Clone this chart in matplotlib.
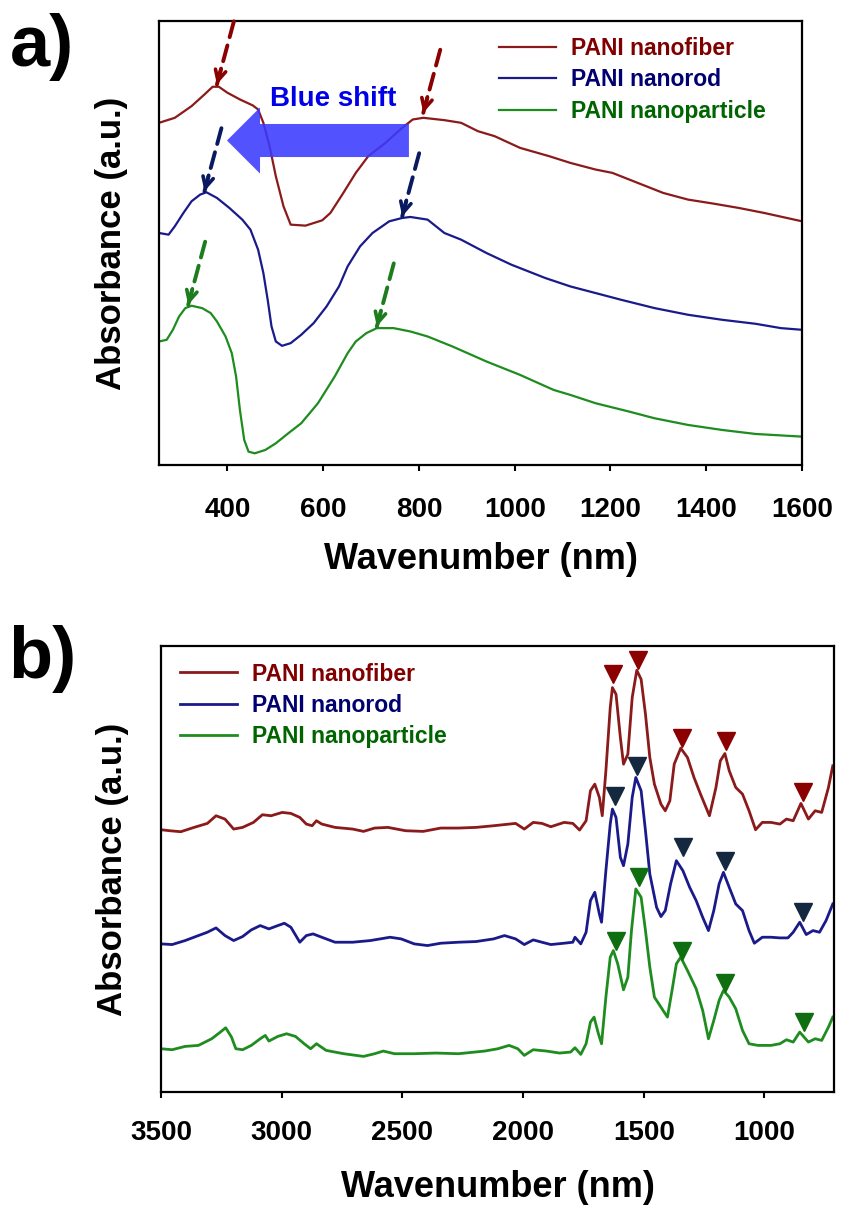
import matplotlib
matplotlib.use("Agg")
import matplotlib.pyplot as plt
from matplotlib.patches import FancyArrow

plt.rcParams['font.family'] = ['Liberation Sans', 'DejaVu Sans']
plt.rcParams['font.weight'] = 'bold'

# ---------------- Panel a : UV-vis spectra (stacked, a.u.) ----------------
uv_fiber_nm = [257, 290, 325, 352, 369, 382, 400, 426, 453, 464, 475, 488, 501, 517, 532, 563,
               598, 615, 642, 668, 694, 730, 765, 787, 809, 853, 888, 923, 958, 1011, 1072, 1116,
               1169, 1204, 1257, 1310, 1362, 1415, 1468, 1521, 1600]
uv_fiber_abs = [1025, 1040, 1075, 1110, 1133, 1133, 1115, 1095, 1077, 1065, 1025, 955, 865, 775, 720, 717,
                733, 755, 815, 875, 925, 965, 1010, 1035, 1040, 1033, 1025, 1000, 985, 950, 925, 905,
                885, 875, 845, 815, 795, 783, 770, 755, 730]

uv_rod_nm = [257, 277, 290, 308, 325, 343, 356, 378, 404, 431, 448, 464, 475, 484, 492, 501, 514,
             532, 554, 580, 607, 633, 651, 677, 703, 738, 765, 782, 818, 853, 888, 941, 993, 1064,
             1116, 1169, 1222, 1292, 1362, 1433, 1503, 1556, 1600]
uv_rod_abs = [695, 690, 715, 755, 790, 810, 817, 800, 770, 735, 705, 645, 575, 495, 415, 370, 357,
              365, 390, 425, 475, 535, 595, 655, 695, 730, 740, 743, 735, 695, 675, 635, 600, 560,
              535, 515, 495, 470, 450, 435, 423, 410, 405]

uv_particle_nm = [257, 273, 286, 299, 312, 325, 347, 365, 378, 396, 409, 418, 426, 435, 444, 457,
                  479, 501, 527, 554, 589, 624, 651, 668, 690, 712, 747, 782, 818, 870, 941, 1011,
                  1081, 1116, 1169, 1239, 1292, 1362, 1433, 1503, 1600]
uv_particle_abs = [370, 375, 405, 445, 470, 477, 470, 455, 430, 385, 335, 265, 165, 75, 40, 35,
                   45, 65, 95, 125, 185, 265, 335, 370, 395, 410, 410, 400, 385, 355, 310, 270,
                   225, 210, 185, 160, 140, 120, 105, 93, 85]

# absorption maxima marked by dashed arrows (nm, a.u.)
uv_fiber_peaks = [(378, 1140), (809, 1055)]
uv_rod_peaks = [(352, 820), (765, 745)]
uv_particle_peaks = [(318, 480), (712, 415)]

uv_ticks = [400, 600, 800, 1000, 1200, 1400, 1600]

# ---------------- Panel b : FTIR spectra (stacked, a.u.) ----------------
ir_fiber_wn = [3500, 3464, 3418, 3363, 3308, 3272, 3235, 3199, 3162, 3117, 3080, 3044, 2998, 2962, 2925,
               2898, 2874, 2856, 2834, 2779, 2706, 2661, 2615, 2560, 2487, 2414, 2341, 2268, 2195, 2122,
               2031, 1995, 1958, 1922, 1885, 1830, 1794, 1766, 1739, 1721, 1703, 1684, 1672, 1657, 1639,
               1630, 1615, 1597, 1584, 1566, 1548, 1529, 1511, 1493, 1475, 1456, 1429, 1411, 1392, 1374,
               1347, 1319, 1292, 1265, 1228, 1201, 1183, 1164, 1146, 1119, 1091, 1064, 1037, 1009, 973,
               936, 909, 881, 849, 818, 790, 763, 735, 717]
ir_fiber_abs = [788, 785, 782, 795, 807, 830, 820, 790, 795, 810, 833, 830, 840, 837, 825,
                805, 800, 815, 805, 795, 790, 783, 793, 795, 785, 783, 793, 793, 795, 800,
                807, 790, 810, 807, 797, 810, 807, 787, 815, 905, 925, 885, 830, 965, 1155,
                1215, 1195, 1065, 985, 1015, 1185, 1267, 1240, 1135, 1005, 925, 865, 845, 875, 985,
                1033, 1005, 945, 895, 830, 915, 995, 1017, 965, 915, 895, 845, 788, 810, 810,
                805, 820, 815, 867, 820, 845, 840, 915, 980]

ir_rod_wn = [3500, 3454, 3400, 3345, 3308, 3272, 3235, 3199, 3162, 3126, 3089, 3053, 3016, 2989, 2962,
             2925, 2898, 2870, 2834, 2779, 2706, 2633, 2551, 2505, 2451, 2396, 2341, 2268, 2195, 2122,
             2077, 2031, 1995, 1958, 1922, 1885, 1830, 1794, 1785, 1761, 1739, 1721, 1703, 1684, 1675,
             1657, 1639, 1630, 1615, 1597, 1584, 1566, 1548, 1533, 1511, 1493, 1475, 1447, 1429, 1411,
             1389, 1365, 1338, 1310, 1283, 1256, 1232, 1210, 1188, 1170, 1146, 1119, 1091, 1064, 1042,
             1009, 973, 936, 903, 881, 854, 827, 799, 772, 745, 717]
ir_rod_abs = [445, 443, 455, 470, 480, 493, 470, 455, 467, 487, 500, 490, 500, 507, 495,
              450, 470, 475, 465, 450, 450, 455, 465, 460, 445, 440, 447, 450, 452, 460,
              470, 460, 443, 457, 450, 443, 447, 450, 465, 445, 480, 575, 600, 535, 510,
              665, 805, 850, 825, 705, 680, 745, 885, 945, 905, 785, 655, 555, 527, 545,
              625, 695, 665, 615, 575, 525, 485, 545, 625, 660, 615, 565, 545, 485, 447,
              465, 465, 463, 463, 480, 510, 473, 485, 480, 515, 565]

ir_particle_wn = [3500, 3454, 3400, 3345, 3290, 3254, 3232, 3208, 3190, 3162, 3126, 3089, 3068, 3053, 3016,
                  2980, 2943, 2907, 2880, 2856, 2816, 2743, 2661, 2615, 2579, 2533, 2451, 2360, 2268, 2159,
                  2104, 2058, 2022, 1995, 1958, 1903, 1849, 1803, 1785, 1761, 1739, 1721, 1706, 1688, 1675,
                  1657, 1639, 1626, 1608, 1584, 1566, 1551, 1533, 1511, 1493, 1475, 1456, 1429, 1402, 1383,
                  1365, 1347, 1319, 1283, 1256, 1232, 1210, 1188, 1170, 1146, 1119, 1091, 1064, 1027, 973,
                  936, 909, 881, 854, 818, 790, 763, 735, 717]
ir_particle_abs = [130, 127, 137, 140, 160, 180, 193, 165, 130, 127, 140, 160, 170, 153, 167,
                   175, 167, 145, 130, 145, 125, 115, 107, 115, 123, 115, 115, 117, 115, 123,
                   130, 140, 130, 110, 127, 123, 117, 120, 133, 113, 145, 210, 225, 175, 145,
                   285, 405, 425, 385, 307, 345, 485, 610, 585, 485, 375, 285, 255, 225, 305,
                   385, 405, 365, 310, 245, 160, 215, 275, 305, 285, 250, 185, 145, 140, 140,
                   145, 157, 150, 180, 150, 160, 155, 195, 225]

# peak markers (cm-1, a.u.)
ir_fiber_mark_wn = [1626, 1526, 1341, 1159, 842]
ir_fiber_mark_abs = [1257, 1297, 1065, 1055, 900]
ir_rod_mark_wn = [1620, 1529, 1338, 1164, 841]
ir_rod_mark_abs = [890, 980, 735, 695, 540]
ir_particle_mark_wn = [1617, 1520, 1341, 1164, 836]
ir_particle_mark_abs = [455, 645, 425, 327, 210]

ir_ticks = [3500, 3000, 2500, 2000, 1500, 1000]

labels = ['PANI nanofiber', 'PANI nanorod', 'PANI nanoparticle']
line_colors = ['#8B1A1A', '#1A1A8B', '#1E8C1E']
text_colors = ['#800000', '#000070', '#006400']
arrow_colors = ['#8B0000', '#0A1A60', '#1E7B1E']
marker_colors = ['#8B0000', '#142840', '#0F6E0F']

W, H = 842, 1205
fig = plt.figure(figsize=(W / 100, H / 100), dpi=100)

ax_a = fig.add_axes([159 / W, 1 - 465 / H, (802 - 159) / W, (465 - 21) / H])
ax_b = fig.add_axes([161 / W, 1 - 1092 / H, (834 - 161) / W, (1092 - 646) / H])

# ---------------- draw panel a ----------------
for xs, ys, c, lab in zip([uv_fiber_nm, uv_rod_nm, uv_particle_nm],
                          [uv_fiber_abs, uv_rod_abs, uv_particle_abs],
                          line_colors, labels):
    ax_a.plot(xs, ys, color=c, lw=1.6, label=lab, solid_joinstyle='round')

ax_a.set_xlim(257, 1600)
ax_a.set_ylim(0, 1330)

for peaks, c in zip([uv_fiber_peaks, uv_rod_peaks, uv_particle_peaks], arrow_colors):
    for (px, py) in peaks:
        ax_a.annotate('', xy=(px, py), xytext=(12.2, 45.4), textcoords='offset points',
                      arrowprops=dict(arrowstyle='-', linestyle=(0, (4.2, 2.2)), lw=2.8,
                                      color=c, shrinkA=0, shrinkB=0), annotation_clip=False)
        ax_a.annotate('', xy=(px, py), xytext=(3.0, 11.5), textcoords='offset points',
                      arrowprops=dict(arrowstyle='->,head_length=0.75,head_width=0.38', lw=2.6,
                                      color=c, shrinkA=0, shrinkB=0), annotation_clip=False)

# blue-shift arrow
ax_a.add_patch(FancyArrow(779, 972, -380, 0, width=99, head_width=198, head_length=69,
                          length_includes_head=True, color='#3a3aff', alpha=0.88, lw=0, zorder=5))
ax_a.text(620, 1095, 'Blue shift', color='#0000e8', fontsize=20, fontweight='bold',
          ha='center', va='center', zorder=6)

ax_a.set_xticks(uv_ticks)
ax_a.set_xticklabels([str(t) for t in uv_ticks])
ax_a.set_yticks([])
ax_a.tick_params(axis='x', direction='out', length=4.5, width=1.5, pad=18.5, labelsize=20)
ax_a.set_xlabel('Wavenumber (nm)', fontsize=26, fontweight='bold', labelpad=14)
ax_a.set_ylabel('Absorbance (a.u.)', fontsize=25, fontweight='bold', labelpad=22)
for s in ax_a.spines.values():
    s.set_linewidth(1.6)

leg_a = ax_a.legend(loc='upper left', bbox_to_anchor=(0.529, 0.964), frameon=False,
                    fontsize=16.5, handlelength=2.5, handletextpad=0.65, labelspacing=0.37,
                    borderpad=0, borderaxespad=0)
for t, c in zip(leg_a.get_texts(), text_colors):
    t.set_color(c)
    t.set_fontweight('bold')

# ---------------- draw panel b ----------------
for xs, ys, c, lab in zip([ir_fiber_wn, ir_rod_wn, ir_particle_wn],
                          [ir_fiber_abs, ir_rod_abs, ir_particle_abs],
                          line_colors, labels):
    ax_b.plot(xs, ys, color=c, lw=2.0, label=lab, solid_joinstyle='round')

for mx, my, c in zip([ir_fiber_mark_wn, ir_rod_mark_wn, ir_particle_mark_wn],
                     [ir_fiber_mark_abs, ir_rod_mark_abs, ir_particle_mark_abs],
                     marker_colors):
    ax_b.plot(mx, my, linestyle='none', marker='v', markersize=13, color=c, zorder=6)

ax_b.set_xlim(3500, 712)
ax_b.set_ylim(0, 1340)
ax_b.set_xticks(ir_ticks)
ax_b.set_xticklabels([str(t) for t in ir_ticks])
ax_b.set_yticks([])
ax_b.tick_params(axis='x', direction='out', length=4.5, width=1.5, pad=16, labelsize=20)
ax_b.set_xlabel('Wavenumber (nm)', fontsize=26, fontweight='bold', labelpad=17)
ax_b.set_ylabel('Absorbance (a.u.)', fontsize=25, fontweight='bold', labelpad=23)
for s in ax_b.spines.values():
    s.set_linewidth(1.6)

leg_b = ax_b.legend(loc='upper left', bbox_to_anchor=(0.028, 0.963), frameon=False,
                    fontsize=16.5, handlelength=2.5, handletextpad=0.65, labelspacing=0.37,
                    borderpad=0, borderaxespad=0)
for t, c in zip(leg_b.get_texts(), text_colors):
    t.set_color(c)
    t.set_fontweight('bold')

# panel letters
fig.text(42 / W, 1 - 47 / H, 'a)', fontsize=52, fontweight='bold', ha='center', va='center')
fig.text(42 / W, 1 - 659 / H, 'b)', fontsize=52, fontweight='bold', ha='center', va='center')

fig.savefig('out.png', dpi=100)
